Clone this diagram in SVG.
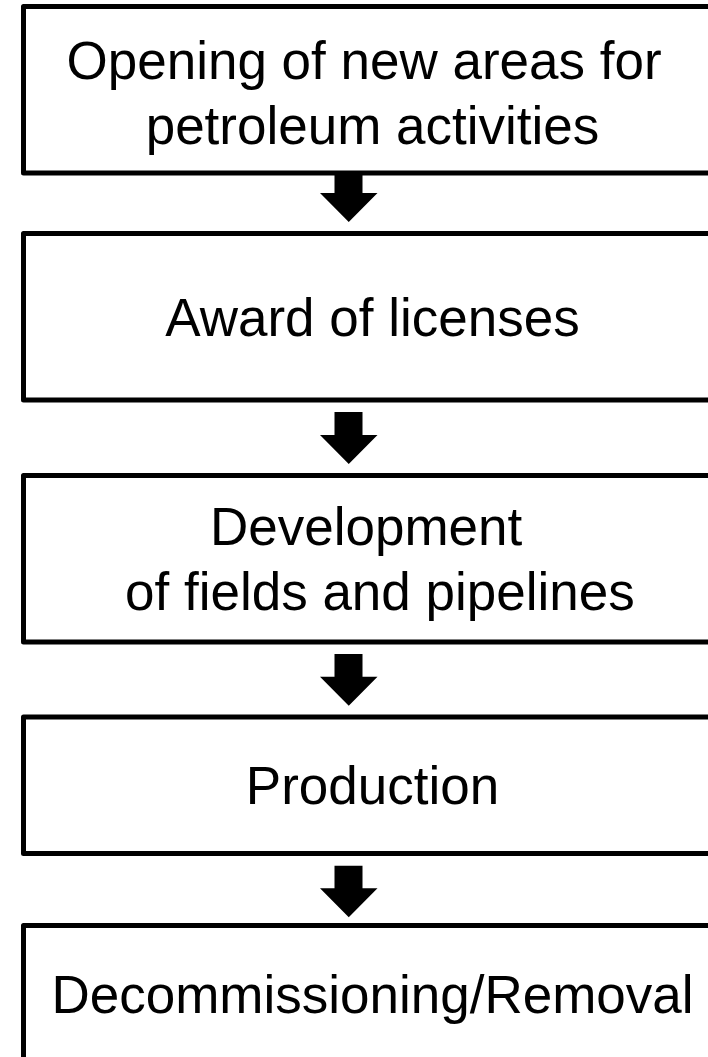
<svg xmlns="http://www.w3.org/2000/svg" width="708" height="1057" viewBox="0 0 708 1057">
<style>
.box{fill:#fff;stroke:#000;stroke-width:5;stroke-linejoin:round}
.t{font-family:"Liberation Sans",Arial,sans-serif;font-size:53px;fill:#000}
.m{text-anchor:middle}
.arr{fill:#000;stroke:none}
</style>
<rect width="708" height="1057" fill="#fff"/>
<g id="node1">
<rect class="box" x="23.5" y="6.5" width="720" height="166.5"/>
<text class="t" x="66.5" y="78.5">Opening of new areas for</text>
<text class="t m" x="372.5" y="143.5">petroleum activities</text>
</g>
<g id="node2">
<rect class="box" x="23.5" y="233.5" width="720" height="166.5"/>
<text class="t m" x="372.5" y="336">Award of licenses</text>
</g>
<g id="node3">
<rect class="box" x="23.5" y="475.5" width="720" height="166.5"/>
<text class="t" x="210" y="545">Development</text>
<text class="t" x="125" y="609.5">of fields and pipelines</text>
</g>
<g id="node4">
<rect class="box" x="23.5" y="717" width="720" height="136.5"/>
<text class="t m" x="372.5" y="804">Production</text>
</g>
<g id="node5">
<rect class="box" x="23.5" y="925.5" width="720" height="160"/>
<text class="t m" x="372.5" y="1013">Decommissioning/Removal</text>
</g>
<g id="connectors">
<polygon class="arr" points="334.5,172 362.5,172 362.5,193 377.5,193 348.75,222 320,193 334.5,193"/>
<polygon class="arr" points="334.5,412 362.5,412 362.5,435 377.5,435 348.75,464 320,435 334.5,435"/>
<polygon class="arr" points="334.5,654 362.5,654 362.5,676.7 377.5,676.7 348.75,705.7 320,676.7 334.5,676.7"/>
<polygon class="arr" points="334.5,865.7 362.5,865.7 362.5,888.3 377.5,888.3 348.75,917.3 320,888.3 334.5,888.3"/>
</g>
</svg>
